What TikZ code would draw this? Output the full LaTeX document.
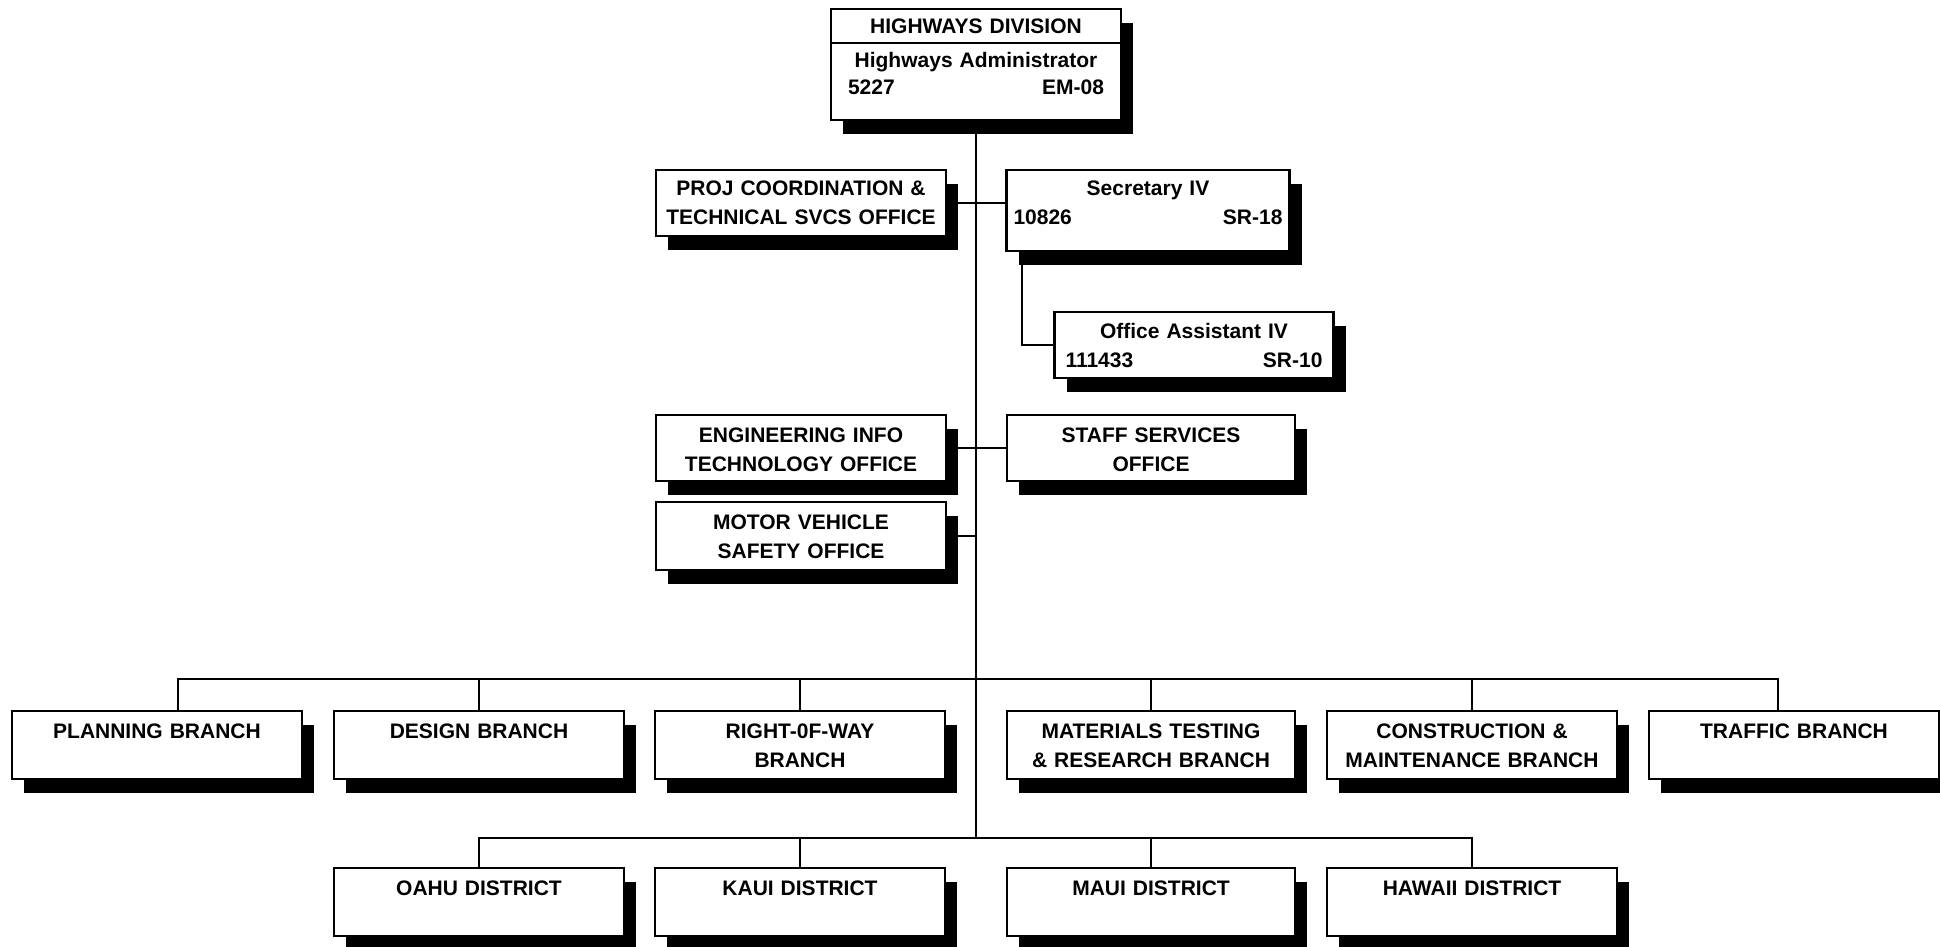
\documentclass[tikz,border=0pt]{standalone}
\usepackage{fontspec}
\newfontfamily\orgfont{Liberation Sans}
\usetikzlibrary{shadows}
\tikzset{
  unit/.style={draw, fill=white, line width=2.4pt, anchor=north, align=center,
    text width=280pt, inner xsep=5pt, inner ysep=3pt, text height=24.5pt, text depth=37.5pt,
    font=\orgfont\bfseries\fontsize{21}{28.5}\selectfont,
    drop shadow={shadow xshift=12pt, shadow yshift=-14pt, fill=black, opacity=1}},
  link/.style={line width=2.2pt}
}
\begin{document}
\begin{tikzpicture}[x=1pt, y=-1pt]
\useasboundingbox (0,0) rectangle (1940,947);
\node[unit, text width=256pt, inner xsep=17pt, text height=21pt, text depth=84pt] (hwy) at (976,8) {HIGHWAYS DIVISION\\[5.5pt]Highways Administrator\\[-0.7pt]5227\hfill EM-08};
\draw[link] ([yshift=-35pt]hwy.north west) -- ([yshift=-35pt]hwy.north east);
\node[unit, text height=22.5pt, text depth=37.5pt] (proj) at (801,169) {PROJ COORDINATION \&\\TECHNICAL SVCS OFFICE};
\node[unit, text width=269pt, inner xsep=7pt, text height=22.5pt, text depth=52.5pt] (sec) at (1148,169) {Secretary IV\\10826\hfill SR-18};
\node[unit, text width=257pt, inner xsep=11pt, text height=23.5pt, text depth=36.5pt] (oa) at (1194,311) {Office Assistant IV\\111433\hfill SR-10};
\node[unit, text depth=35.5pt] (eit) at (801,414) {ENGINEERING INFO\\TECHNOLOGY OFFICE};
\node[unit, text width=278pt, text depth=35.5pt] (staff) at (1151,414) {STAFF SERVICES\\OFFICE};
\node[unit] (mvs) at (801,501) {MOTOR VEHICLE\\SAFETY OFFICE};
\node[unit] (plan) at (157,710) {PLANNING BRANCH};
\node[unit] (des) at (479,710) {DESIGN BRANCH};
\node[unit] (row) at (800,710) {RIGHT-0F-WAY\\BRANCH};
\node[unit, text width=278pt] (mat) at (1151,710) {MATERIALS TESTING\\\& RESEARCH BRANCH};
\node[unit] (con) at (1472,710) {CONSTRUCTION \&\\MAINTENANCE BRANCH};
\node[unit] (traf) at (1794,710) {TRAFFIC BRANCH};
\node[unit] (oahu) at (479,867) {OAHU DISTRICT};
\node[unit] (kaui) at (800,867) {KAUI DISTRICT};
\node[unit, text width=278pt] (maui) at (1151,867) {MAUI DISTRICT};
\node[unit] (hawaii) at (1472,867) {HAWAII DISTRICT};
\coordinate (bbus) at (976,679);
\coordinate (dbus) at (976,838);
\draw[link] (hwy.south) -- (dbus);
\draw[link] (proj.east) -- (proj.east -| sec.west);
\draw[link] ([xshift=17pt]sec.south west) |- (oa.west);
\draw[link] (eit.east) -- (eit.east -| staff.west);
\draw[link] (mvs.east) -- (mvs.east -| hwy.south);
\draw[link] ([xshift=21pt]plan.north) |- (bbus) -| ([xshift=-16pt]traf.north);
\draw[link] (des.north) -- (des.north |- bbus);
\draw[link] (row.north) -- (row.north |- bbus);
\draw[link] (mat.north) -- (mat.north |- bbus);
\draw[link] (con.north) -- (con.north |- bbus);
\draw[link] (oahu.north) |- (dbus) -| (hawaii.north);
\draw[link] (kaui.north) -- (kaui.north |- dbus);
\draw[link] (maui.north) -- (maui.north |- dbus);
\end{tikzpicture}
\end{document}
